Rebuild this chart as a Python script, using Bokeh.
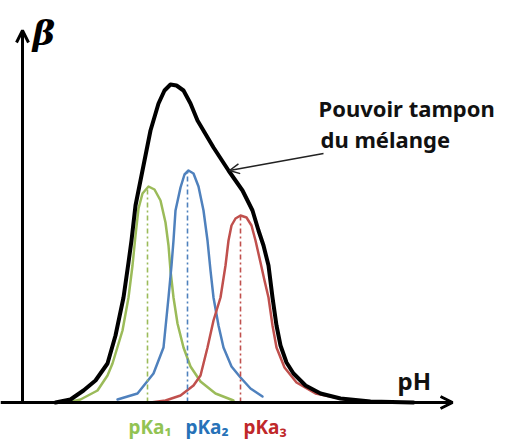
from bokeh.plotting import figure
from bokeh.models import Range1d, Label, Arrow, OpenHead
from bokeh.embed import file_html
from bokeh.resources import INLINE

# ---- data (x = pH in arbitrary units from origin, y = beta in arbitrary units) ----
black_x = [33, 48, 61, 73, 85, 93, 101, 106, 109, 113, 120, 128, 136, 142, 148, 154, 161, 168, 175,
           191, 206, 220, 230, 236, 241, 246, 250, 254, 258, 264, 271, 283, 298, 318, 348, 391]
black_y = [0, 3, 12, 22, 39, 67, 105, 140, 162, 197, 232, 272, 299, 312, 318, 317, 312, 299, 282,
           255, 232, 212, 192, 172, 157, 137, 105, 77, 57, 40, 29, 17, 9, 4, 1, 0]

green_x = [45, 58, 75, 85, 90, 100, 106, 110, 113, 116, 120, 126, 132, 138, 143, 146, 148, 151,
           155, 161, 168, 178, 193, 211]
green_y = [0, 3, 12, 27, 39, 72, 105, 137, 167, 194, 209, 216, 213, 202, 180, 157, 132, 105,
           79, 55, 36, 21, 9, 2]

blue_x = [95, 115, 131, 141, 146, 149, 151, 153, 158, 162, 166, 171, 176, 181, 185, 188, 191,
          196, 201, 209, 218, 228, 240]
blue_y = [3, 9, 29, 55, 105, 137, 162, 192, 215, 228, 232, 229, 216, 192, 162, 132, 105,
          77, 55, 36, 25, 14, 6]

red_x = [128, 143, 158, 171, 178, 185, 191, 198, 203, 206, 209, 213, 218, 224, 229, 233, 238,
         242, 246, 250, 254, 262, 274, 293, 323, 358]
red_y = [0, 2, 7, 17, 27, 55, 82, 105, 137, 162, 177, 184, 187, 185, 177, 162, 140,
         122, 105, 77, 55, 35, 20, 9, 3, 0]

pka_x = [125, 165, 218]
pka_top = [216, 232, 187]
pka_labels = ["pKa₁", "pKa₂", "pKa₃"]
label_x = [106, 163, 221]

curve_colors = ["#9bbb59", "#4f81bd", "#c0504d"]
label_colors = ["#92c353", "#2672b8", "#c0282a"]

p = figure(width=506, height=440, output_backend="svg", toolbar_location=None,
           x_range=Range1d(-22, 484), y_range=Range1d(-38, 402),
           x_axis_type=None, y_axis_type=None, min_border=0)
p.grid.visible = False
p.outline_line_color = None
p.background_fill_color = "white"

# colored component curves
for xs, ys, c in zip([green_x, blue_x, red_x], [green_y, blue_y, red_y], curve_colors):
    p.line(xs, ys, line_color=c, line_width=2.5, line_join="round", line_cap="round")

# pKa dash-dot lines
for xv, top, c in zip(pka_x, pka_top, curve_colors):
    p.line([xv, xv], [0, top], line_color=c, line_width=1.6, line_dash="5 3 2 3")

# black total buffer capacity
p.line(black_x, black_y, line_color="black", line_width=4, line_join="round", line_cap="round")

# axes with arrows
p.add_layout(Arrow(end=OpenHead(size=12, line_width=3, line_color="black"),
                   x_start=-22, y_start=0, x_end=430, y_end=0,
                   line_width=3, line_color="black"))
p.add_layout(Arrow(end=OpenHead(size=12, line_width=3, line_color="black"),
                   x_start=0, y_start=0, x_end=0, y_end=372,
                   line_width=3, line_color="black"))

# pointer arrow
p.add_layout(Arrow(end=OpenHead(size=10, line_width=1.5, line_color="#222222"),
                   x_start=301, y_start=249, x_end=207, y_end=232,
                   line_width=1.5, line_color="#222222"))

# texts
p.add_layout(Label(x=10, y=370, text="β", text_font="DejaVu Serif",
                   text_font_style="bold italic", text_font_size="34px",
                   text_color="black", text_baseline="alphabetic"))
p.add_layout(Label(x=296, y=295, text="Pouvoir tampon", text_font="Noto Sans",
                   text_font_style="bold", text_font_size="22px",
                   text_color="#111111", text_baseline="alphabetic"))
p.add_layout(Label(x=298, y=264, text="du mélange", text_font="Noto Sans",
                   text_font_style="bold", text_font_size="22px",
                   text_color="#111111", text_baseline="alphabetic"))
p.add_layout(Label(x=375, y=22, text="pH", text_font="Noto Sans",
                   text_font_style="bold", text_font_size="24px",
                   text_color="#111111", text_baseline="alphabetic"))
for lx, t, c in zip(label_x, pka_labels, label_colors):
    p.add_layout(Label(x=lx, y=-24, text=t, text_font="Noto Sans",
                       text_font_style="bold", text_font_size="19px",
                       text_color=c, text_baseline="alphabetic"))

open("out.html", "w").write(file_html(p, INLINE))
